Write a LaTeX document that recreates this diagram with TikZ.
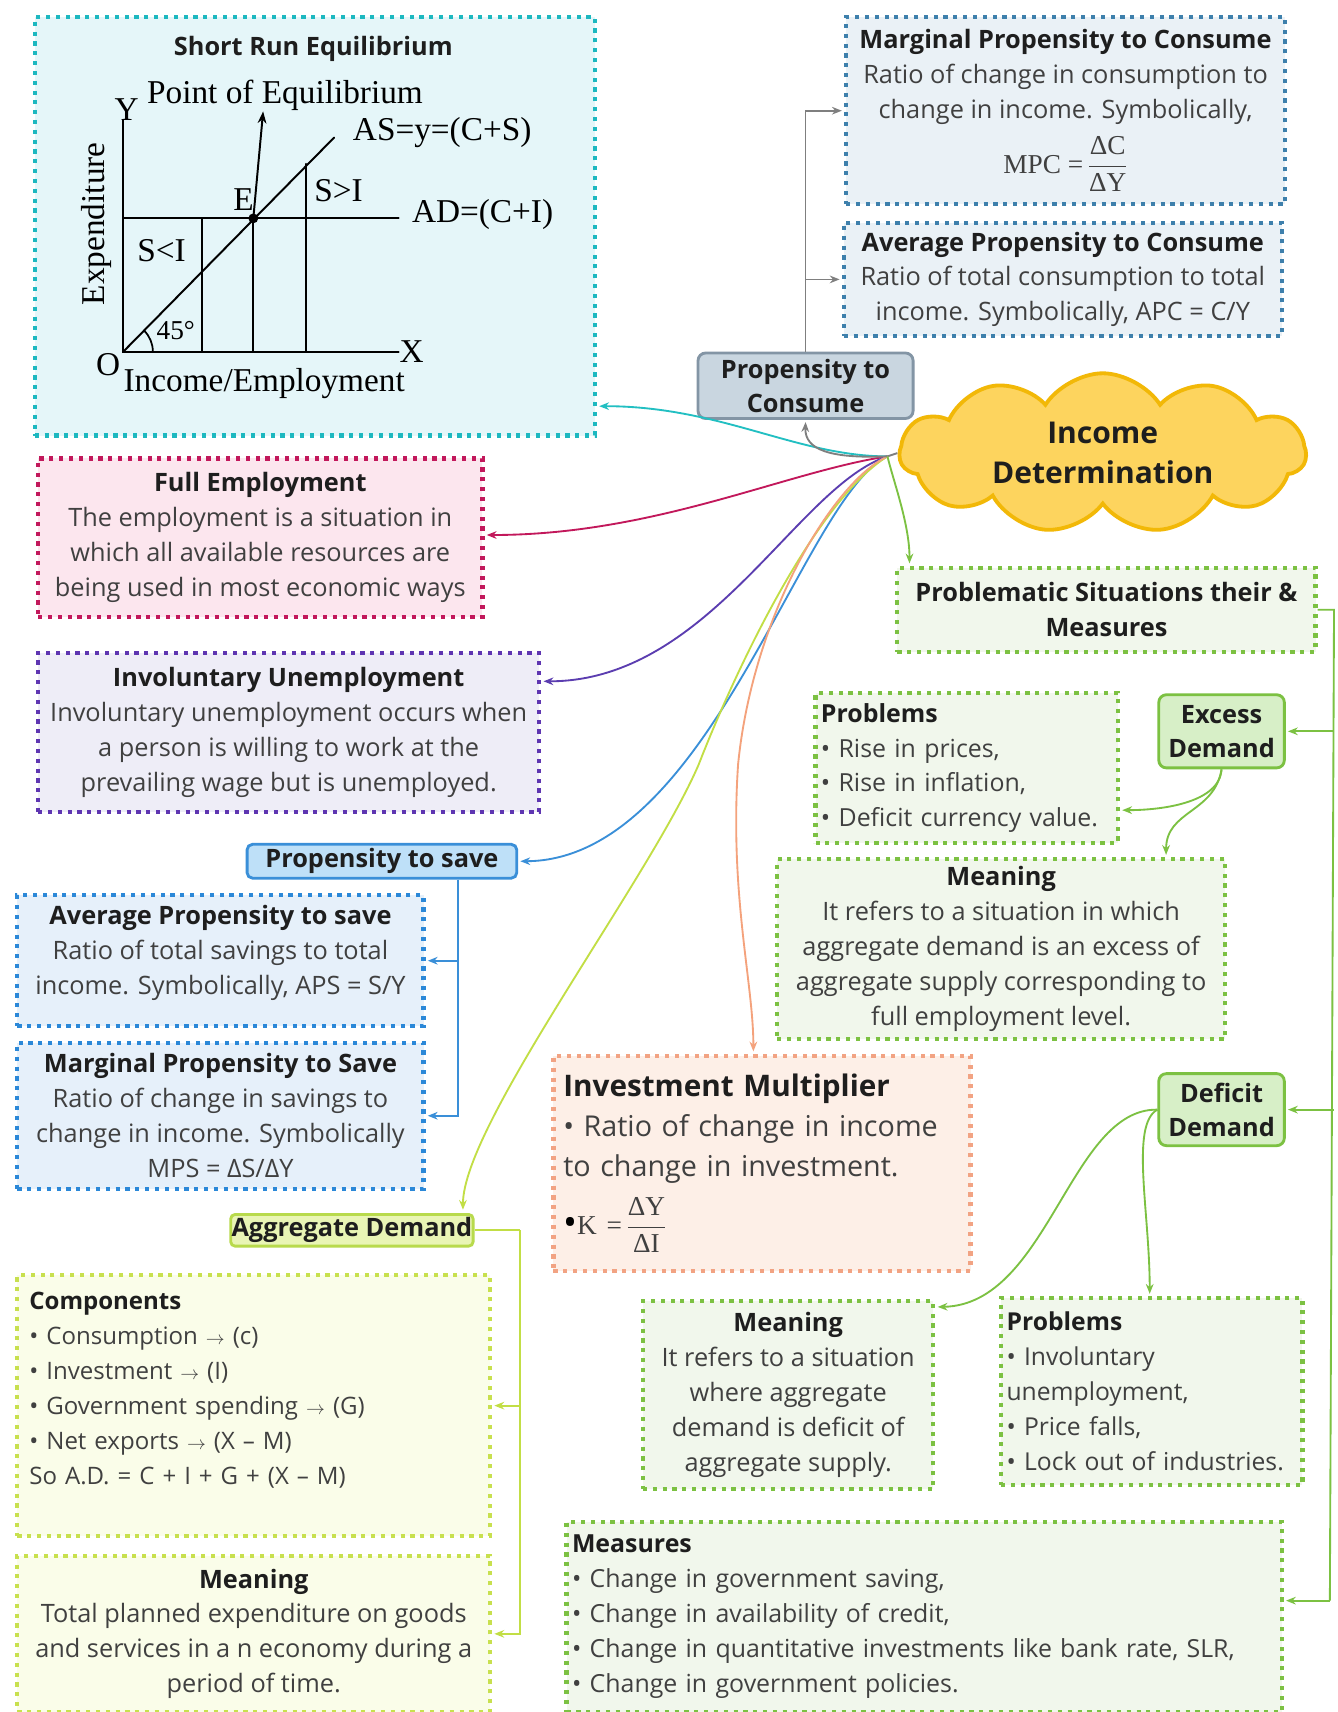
\documentclass[tikz,border=0pt]{standalone}
\usepackage{fontspec}
\setmainfont{Open Sans}
\newfontfamily\graphfont{Liberation Serif}
\usetikzlibrary{shapes.symbols,arrows.meta,calc}

% box colours
\definecolor{bodytxt}{HTML}{404040}
\definecolor{hdtxt}{HTML}{1E1E1E}
\definecolor{srline}{HTML}{1DB8C0}\definecolor{srfill}{HTML}{E5F6F9}
\definecolor{mpcline}{HTML}{3E80AC}\definecolor{mpcfill}{HTML}{EAF1F6}
\definecolor{ptcline}{HTML}{8395A5}\definecolor{ptcfill}{HTML}{C9D6E0}
\definecolor{cloudline}{HTML}{F2B807}\definecolor{cloudfill}{HTML}{FDD45E}
\definecolor{feline}{HTML}{C2185B}\definecolor{fefill}{HTML}{FCE6EE}
\definecolor{iuline}{HTML}{5E35B1}\definecolor{iufill}{HTML}{EEEDF7}
\definecolor{ptsline}{HTML}{3A8FD8}\definecolor{ptsfill}{HTML}{BEE0F8}
\definecolor{apsline}{HTML}{2B88D8}\definecolor{apsfill}{HTML}{E6F0FA}
\definecolor{adline}{HTML}{B8DA4C}\definecolor{adfill}{HTML}{E9F5B5}
\definecolor{compline}{HTML}{C8E04E}\definecolor{compfill}{HTML}{FAFDE9}
\definecolor{grline}{HTML}{7CC142}\definecolor{grfill}{HTML}{F1F7EC}
\definecolor{edfill}{HTML}{D7EFC7}
\definecolor{imline}{HTML}{F2A383}\definecolor{imfill}{HTML}{FDEFE7}
% connector colours
\definecolor{cteal}{HTML}{22BFC2}
\definecolor{ccrim}{HTML}{C2185B}
\definecolor{cpurp}{HTML}{5B3DB0}
\definecolor{cblue}{HTML}{3A8FD8}
\definecolor{cyg}{HTML}{C2DE45}
\definecolor{corange}{HTML}{F4A27C}
\definecolor{cgray}{HTML}{7F7F7F}
\definecolor{cgreen}{HTML}{7CC142}

\newcommand{\hd}[1]{{\bfseries\color{hdtxt}#1}}
\newcommand{\smallarrow}{{\fontsize{18}{18}\selectfont$\rightarrow$}}
\newcommand{\fracserif}[2]{$\displaystyle\frac{\mbox{\graphfont #1}}{\mbox{\graphfont #2}}$}

\begin{document}
\begin{tikzpicture}[x=1pt,y=-1pt,
  card/.style={rectangle, anchor=north west, inner sep=0pt, line width=3.8pt,
    dash pattern=on 3.8pt off 5.2pt, align=center,
    font=\fontsize{23.2}{32}\selectfont, text=bodytxt},
  leftcard/.style={card, align=left},
  pill/.style={rectangle, rounded corners=7pt, anchor=north west, inner sep=0pt,
    line width=2.6pt, align=center, font=\bfseries\fontsize{23.2}{31}\selectfont, text=hdtxt},
  link/.style={line width=1.7pt, -{Stealth[length=9pt,width=7pt]}},
  rail/.style={line width=1.7pt},
  gl/.style={font=\graphfont\fontsize{30.5}{32}\selectfont, inner sep=0pt},
  gline/.style={line width=1.8pt, line cap=round}
]
\useasboundingbox (0,0) rectangle (1225,1568);
\fill[white] (0,0) rectangle (1225,1568);

% ---------- central topic ----------
\node[cloud, cloud puffs=11, cloud puff arc=115, aspect=2.7, draw=cloudline, fill=cloudfill,
  line width=3.5pt, minimum width=372, minimum height=120, inner sep=0pt, align=center,
  font=\bfseries\fontsize{27.5}{37}\selectfont, text=hdtxt] (cloud) at (1010,415) {Income\\Determination};
\coordinate (hub) at ($(cloud.west)+(-9,3)$);

% ---------- short run equilibrium ----------
\node[card, draw=srline, fill=srfill, minimum width=513, minimum height=383] (sr) at (30,14) {};
\node[font=\bfseries\fontsize{23.2}{28}\selectfont, text=hdtxt] (srtitle) at (287,45) {Short Run Equilibrium};
\coordinate (O) at (113,322);
\coordinate (E) at (232,200);
\draw[gline] (113,110) -- (O) -- (365,322);
\draw[gline] (O) -- (306,126);
\draw[gline] (113,200) -- (365,200);
\draw[gline] (185,322) -- (185,200);
\draw[gline] (232,322) -- (E);
\draw[gline] (280,322) -- (280,150);
\draw[line width=1.6pt] ($(O)+(27,0)$) arc[start angle=0, end angle=-45, radius=27];
\fill (E) circle (4.5);
\draw[line width=1.8pt, -{Stealth[length=11pt,width=8pt]}] (E) -- (241,102);
\node[gl] (gY) at (116,100) {Y};
\node[gl] (gPE) at (261,87) {Point of Equilibrium};
\node[gl] (gAS) at (405,121) {AS=y=(C+S)};
\node[gl] (gE) at (223,183) {E};
\node[gl] (gSI1) at (310,175) {S>I};
\node[gl] (gAD) at (442,196) {AD=(C+I)};
\node[gl] (gSI2) at (148,230) {S<I};
\node[gl, font=\graphfont\fontsize{25}{26}\selectfont] (g45) at (161,303) {45°};
\node[gl] (gO) at (99,334) {O};
\node[gl] (gX) at (377,322) {X};
\node[gl] (gInc) at (242,351) {Income/Employment};
\node[gl, rotate=90] (gExp) at (88,205) {Expenditure};

% ---------- propensity to consume ----------
\node[card, draw=mpcline, fill=mpcfill, minimum width=402, minimum height=171] (mpc) at (773,14)
  {\hd{Marginal Propensity to Consume}\\ Ratio of change in consumption to\\ change in income. Symbolically,\\[10pt]
   {\graphfont\fontsize{25}{30}\selectfont MPC =\,\fracserif{ΔC}{ΔY}}};
\node[card, draw=mpcline, fill=mpcfill, minimum width=401, minimum height=104] (apc) at (771,202)
  {\hd{Average Propensity to Consume}\\ Ratio of total consumption to total\\ income. Symbolically, APC = C/Y};
\node[pill, draw=ptcline, fill=ptcfill, minimum width=197, minimum height=60] (ptc) at (638,322)
  {Propensity to\\Consume};

% ---------- left column ----------
\node[card, draw=feline, fill=fefill, minimum width=407, minimum height=145] (fe) at (33,418)
  {\hd{Full Employment}\\ The employment is a situation in\\ which all available resources are\\ being used in most economic ways};
\node[card, draw=iuline, fill=iufill, minimum width=459, minimum height=146] (iu) at (33,596)
  {\hd{Involuntary Unemployment}\\ Involuntary unemployment occurs when\\ a person is willing to work at the\\ prevailing wage but is unemployed.};
\node[pill, rounded corners=5pt, draw=ptsline, fill=ptsfill, minimum width=247, minimum height=31] (pts) at (225,772)
  {Propensity to save};
\node[card, draw=apsline, fill=apsfill, minimum width=372, minimum height=120] (aps) at (14,818)
  {\hd{Average Propensity to save}\\ Ratio of total savings to total\\ income. Symbolically, APS = S/Y\\[-12pt]\mbox{}};
\node[card, draw=apsline, fill=apsfill, minimum width=372, minimum height=134] (mps) at (14,953)
  {\hd{Marginal Propensity to Save}\\ Ratio of change in savings to\\ change in income. Symbolically\\ MPS = ΔS/ΔY};
\node[pill, rounded corners=4pt, draw=adline, fill=adfill, minimum width=222, minimum height=29] (ad) at (210,1111)
  {Aggregate Demand};
\node[leftcard, draw=compline, fill=compfill, minimum width=433, minimum height=239, text width=411,
  font=\fontsize{22}{32}\selectfont] (comp) at (14,1166)
  {\hd{Components}\\ • Consumption \smallarrow{} (c)\\ • Investment \smallarrow{} (I)\\
   • Government spending \smallarrow{} (G)\\ • Net exports \smallarrow{} (X – M)\\
   So A.D. = C + I + G + (X – M)\\ \mbox{}};
\node[card, draw=compline, fill=compfill, minimum width=433, minimum height=143] (adm) at (14,1423)
  {\hd{Meaning}\\ Total planned expenditure on goods\\ and services in a n economy during a\\ period of time.};

% ---------- investment multiplier ----------
\node[leftcard, draw=imline, fill=imfill, minimum width=382, minimum height=197, text width=364,
  font=\fontsize{26.3}{37}\selectfont] (im) at (505,965)
  {{\bfseries\color{hdtxt}\fontsize{27.2}{37}\selectfont Investment Multiplier}\\ • Ratio of change in income\\ to change in investment.\\[12pt]
   {\color{black}\fontsize{34}{34}\selectfont\raisebox{-1pt}{\textbullet}}{\graphfont\fontsize{25}{30}\selectfont K =\,\fracserif{ΔY}{ΔI}}};

% ---------- problematic situations ----------
\node[card, draw=grline, fill=grfill, minimum width=383, minimum height=77] (prob) at (820,518)
  {\hd{Problematic Situations their \&}\\ \hd{Measures}};
\node[pill, draw=grline, fill=edfill, minimum width=115, minimum height=67] (exd) at (1060,635)
  {Excess\\Demand};
\node[leftcard, draw=grline, fill=grfill, minimum width=277, minimum height=137, text width=267,
  font=\fontsize{22.8}{32}\selectfont] (p1) at (745,633)
  {\hd{Problems}\\ • Rise in prices,\\ • Rise in inflation,\\ • Deficit currency value.};
\node[card, draw=grline, fill=grfill, minimum width=410, minimum height=165] (m1) at (710,785)
  {\hd{Meaning}\\ It refers to a situation in which\\ aggregate demand is an excess of\\ aggregate supply corresponding to\\ full employment level.};
\node[pill, draw=grline, fill=edfill, minimum width=115, minimum height=66] (dfd) at (1060,982)
  {Deficit\\Demand};
\node[card, draw=grline, fill=grfill, minimum width=266, minimum height=172] (m2) at (587,1190)
  {\hd{Meaning}\\ It refers to a situation\\ where aggregate\\ demand is deficit of\\ aggregate supply.};
\node[leftcard, draw=grline, fill=grfill, minimum width=276, minimum height=171, text width=266,
  font=\fontsize{22.6}{32}\selectfont] (p2) at (915,1187)
  {\hd{Problems}\\ • Involuntary\\ unemployment,\\ • Price falls,\\ • Lock out of industries.};
\node[leftcard, draw=grline, fill=grfill, minimum width=655, minimum height=174, text width=645,
  font=\fontsize{22.8}{32}\selectfont] (meas) at (517,1392)
  {\hd{Measures}\\ • Change in government saving,\\ • Change in availability of credit,\\
   • Change in quantitative investments like bank rate, SLR,\\ • Change in government policies.};

% ---------- connectors from the central topic ----------
\coordinate (yTeal) at (0,372);
\coordinate (yCrim) at (0,490);
\coordinate (yPurp) at (0,624);
\coordinate (xYG) at (424,0);
\coordinate (xOr) at (690,0);
\coordinate (xGr) at (833,0);
\draw[rail, cgray] (hub) -- (cloud.west);
\draw[link, cteal] (hub) .. controls (730,418) and (660,372) .. ($(yTeal -| sr.east)+(2,0)$);
\draw[link, ccrim] (hub) .. controls (720,432) and (600,490) .. ($(yCrim -| fe.east)+(2,0)$);
\draw[link, cpurp] (hub) .. controls (730,445) and (650,624) .. ($(yPurp -| iu.east)+(2,0)$);
\draw[link, cblue] (hub) .. controls (735,455) and (650,788) .. ($(pts.east)+(2,0)$);
\draw[link, cyg] (hub) .. controls (748,458) and (675,610) .. (640,700)
  .. controls (595,805) and (424,1030) .. ($(xYG |- ad.north)+(0,-3)$);
\draw[link, corange] (hub) .. controls (765,440) and (690,560) .. (676,700)
  .. controls (668,820) and (690,900) .. ($(xOr |- im.north)+(0,-2)$);
\draw[link, cgray] (hub) .. controls (760,420) and (737,412) .. ($(ptc.south)+(0,2)$);
\draw[link, cgreen] (hub) .. controls (818,440) and (833,480) .. ($(xGr |- prob.north)+(0,-2)$);

% ---------- propensity to consume branches ----------
\draw[link, cgray, line width=1.5pt] (ptc.north) |- ($(mpc.west)+(-2,0)$);
\draw[link, cgray, line width=1.5pt] (ptc.north |- apc.west) -- ($(apc.west)+(-2,0)$);

% ---------- propensity to save branches ----------
\coordinate (sv) at ($(pts.south east)+(-55,0)$);
\draw[link, cblue] (sv) |- ($(mps.east)+(2,0)$);
\draw[link, cblue] (sv |- aps.east) -- ($(aps.east)+(2,0)$);

% ---------- aggregate demand branches ----------
\coordinate (adr) at ($(ad.east)+(42,0)$);
\draw[rail, cyg] (ad.east) -- (adr);
\draw[link, cyg] (adr) |- ($(adm.east)+(2,0)$);
\draw[link, cyg] (adr |- comp.east) -- ($(comp.east)+(2,0)$);

% ---------- problematic situations branches ----------
\coordinate (railtop) at ($(prob.east)+(15,0)$);
\coordinate (railbot) at (1218,1466);
\draw[rail, cgreen] (prob.east) -- (railtop) -- (railbot);
\draw[link, cgreen] (railtop |- exd.east) -- ($(exd.east)+(2,0)$);
\draw[link, cgreen] (railtop |- dfd.east) -- ($(dfd.east)+(2,0)$);
\draw[link, cgreen] (railbot) -- ($(railbot -| meas.east)+(2,0)$);

% ---------- excess demand ----------
\coordinate (yP1) at (0,742);
\coordinate (xM1) at (1068,0);
\draw[link, cgreen] (exd.south) .. controls (1117,735) and (1065,742) .. ($(yP1 -| p1.east)+(2,0)$);
\draw[link, cgreen] (exd.south) .. controls (1112,745) and (1068,742) .. ($(xM1 |- m1.north)+(0,-2)$);

% ---------- deficit demand ----------
\coordinate (yM2) at (0,1197);
\coordinate (xP2) at (1053,0);
\draw[link, cgreen] (dfd.west) .. controls (980,1015) and (960,1195) .. ($(yM2 -| m2.east)+(2,0)$);
\draw[link, cgreen] (dfd.west) .. controls (1035,1030) and (1053,1110) .. ($(xP2 |- p2.north)+(0,-2)$);
\end{tikzpicture}
\end{document}
